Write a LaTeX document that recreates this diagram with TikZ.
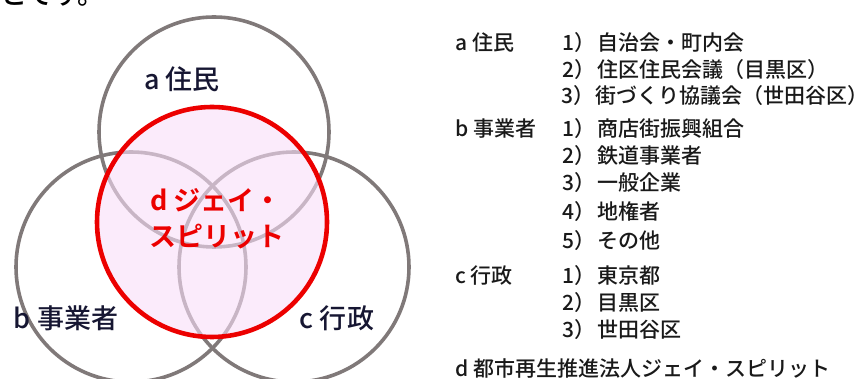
\documentclass[tikz,border=0pt]{standalone}
\usepackage{fontspec}
\setmainfont{Noto Sans CJK JP}[UprightFont=* Medium, BoldFont=* Bold]
\definecolor{ringgrey}{RGB}{128,121,121}
\definecolor{spiritred}{RGB}{236,0,0}
\definecolor{spiritpink}{RGB}{248,222,248}
\definecolor{labelnavy}{RGB}{22,22,50}
\definecolor{listblack}{RGB}{25,25,25}
\tikzset{
	ring/.style={circle, draw=ringgrey, line width=3.6pt, minimum size=230pt, inner sep=0pt},
	spirit/.style={circle, draw=spiritred, line width=4.6pt, fill=spiritpink, fill opacity=0.6, minimum size=230pt, inner sep=0pt},
	venntext/.style={font=\fontsize{27}{30}\selectfont, text=labelnavy, inner sep=0pt},
	listtext/.style={font=\fontsize{21}{23}\selectfont, text=listblack, anchor=west, inner sep=0pt},
}
\begin{document}
\begin{tikzpicture}[x=1pt, y=-1pt]
	\useasboundingbox (0,0) rectangle (863,379) ;
	\begin{scope}
		\clip (0,0) rectangle (863,379) ;
		\node (lead)[venntext, anchor=west, text=black] at (0,-5) {とです。} ;
	\end{scope}
		\node (a)[ring] at (214,132) {} ;
		\node (b)[ring] at (131,267) {} ;
		\node (c)[ring] at (294,267) {} ;
		\node (d)[spirit] at (212,222) {} ;
		\node (alab)[venntext] at (182,79) {a 住民} ;
		\node (blab)[venntext] at (66,318) {b 事業者} ;
		\node (clab)[venntext] at (337,318) {c 行政} ;
		\node (dlab1)[venntext, text=spiritred, font=\fontsize{27}{30}\selectfont\bfseries] at (216,200) {d ジェイ・} ;
		\node (dlab2)[venntext, text=spiritred, font=\fontsize{27}{30}\selectfont\bfseries] at (217,237) {スピリット} ;
	\node (la)[listtext] at (455,43) {a 住民} ;
	\node (la1)[listtext] at (562,43) {1）\hspace{2pt}自治会・町内会} ;
	\node (la2)[listtext] at (562,70) {2）\hspace{2pt}住区住民会議（目黒区）} ;
	\node (la3)[listtext] at (561,96) {3）\hspace{1pt}街づくり協議会（世田谷区）\hspace{-9pt}} ;
	\node (lb)[listtext] at (455,129) {b 事業者} ;
	\node (lb1)[listtext] at (562,129) {1）\hspace{2pt}商店街振興組合} ;
	\node (lb2)[listtext] at (562,156) {2）\hspace{2pt}鉄道事業者} ;
	\node (lb3)[listtext] at (562,183) {3）\hspace{2pt}一般企業} ;
	\node (lb4)[listtext] at (562,212) {4）\hspace{2pt}地権者} ;
	\node (lb5)[listtext] at (562,241) {5）\hspace{2pt}その他} ;
	\node (lc)[listtext] at (455,276) {c 行政} ;
	\node (lc1)[listtext] at (562,276) {1）\hspace{2pt}東京都} ;
	\node (lc2)[listtext] at (562,303) {2）\hspace{2pt}目黒区} ;
	\node (lc3)[listtext] at (562,330) {3）\hspace{2pt}世田谷区} ;
	\node (ld)[listtext] at (455,368) {d 都市再生推進法人ジェイ・スピリット} ;
\end{tikzpicture}
\end{document}
